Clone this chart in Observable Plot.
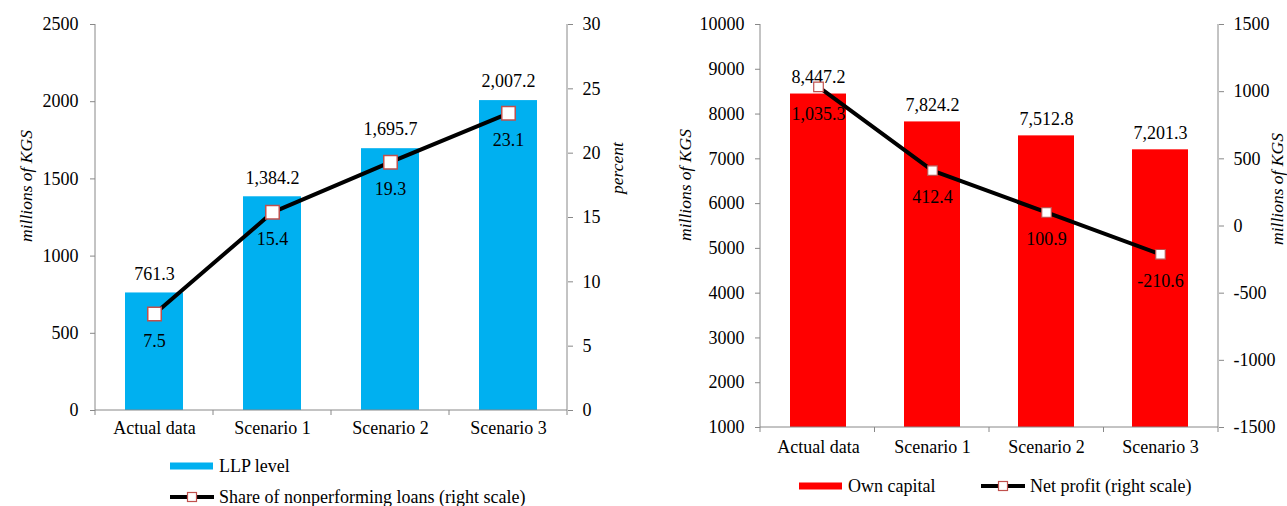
<!DOCTYPE html>
<html><head><meta charset="utf-8">
<script src="https://cdn.jsdelivr.net/npm/d3@7"></script>
<script src="https://cdn.jsdelivr.net/npm/@observablehq/plot@0.6"></script>
<style>
body{margin:0;background:#fff;}
#wrap{position:relative;width:1287px;height:506px;overflow:hidden;font-family:'Liberation Serif','DejaVu Serif',serif;color:#000;}
.panel{position:absolute;top:0;}
.panel text{font-family:'Liberation Serif','DejaVu Serif',serif;}
.leg{position:absolute;display:flex;align-items:center;font-size:18px;white-space:nowrap;line-height:1;}
.leg svg{display:block;margin-right:5px;}
.ttl{position:absolute;font-style:italic;font-size:17.5px;white-space:nowrap;transform:translate(-50%,-50%) rotate(-90deg);line-height:1;}
</style></head><body><div id="wrap"></div>
<script>
// ---- data ----
const categories = ["Actual data", "Scenario 1", "Scenario 2", "Scenario 3"];
const llpLevel = [761.3, 1384.2, 1695.7, 2007.2];
const nplShare = [7.5, 15.4, 19.3, 23.1];
const ownCapital = [8447.2, 7824.2, 7512.8, 7201.3];
const netProfit = [1035.3, 412.4, 100.9, -210.6];
const leftTicksA = [0, 500, 1000, 1500, 2000, 2500];
const rightTicksA = [0, 5, 10, 15, 20, 25, 30];
const leftTicksB = [1000, 2000, 3000, 4000, 5000, 6000, 7000, 8000, 9000, 10000];
const rightTicksB = [-1500, -1000, -500, 0, 500, 1000, 1500];

const FONT = "'Liberation Serif','DejaVu Serif',serif";
const AXIS = "#888888";
const fmt = v => (v < 0 ? "-" : "") + d3.format(",.1f")(Math.abs(v));

function frameLines() {
  return (index, scales, values, dims) => {
    const {width, height, marginLeft, marginRight, marginTop, marginBottom} = dims;
    const x0 = marginLeft, x1 = width - marginRight, y0 = marginTop, y1 = height - marginBottom;
    const g = d3.create("svg:g").attr("stroke", AXIS).attr("stroke-width", 1).attr("fill", "none");
    g.append("line").attr("x1", x0).attr("x2", x0).attr("y1", y0).attr("y2", y1);
    g.append("line").attr("x1", x1).attr("x2", x1).attr("y1", y0).attr("y2", y1);
    g.append("line").attr("x1", x0).attr("x2", x1).attr("y1", y1).attr("y2", y1);
    const n = categories.length;
    for (let i = 0; i <= n; i++) {
      const x = x0 + i * (x1 - x0) / n;
      g.append("line").attr("x1", x).attr("x2", x).attr("y1", y1).attr("y2", y1 + 5);
    }
    return g.node();
  };
}

const wrap = document.getElementById("wrap");

// ---- left chart ----
const kA = 2500 / 30;
const dataA = categories.map((c, i) => ({cat: c, llp: llpLevel[i], npl: nplShare[i]}));
const chartA = Plot.plot({
  width: 640, height: 450,
  marginLeft: 95, marginRight: 73, marginTop: 24, marginBottom: 40,
  style: {fontFamily: FONT, fontSize: "18px", color: "#000", background: "transparent", overflow: "visible"},
  x: {domain: categories, paddingInner: 0.51, paddingOuter: 0.255},
  y: {domain: [0, 2500]},
  marks: [
    Plot.barY(dataA, {x: "cat", y: "llp", fill: "#00B0F0"}),
    frameLines(),
    Plot.axisY({ticks: leftTicksA, anchor: "left", tickSize: 5, tickPadding: 12, stroke: AXIS, fill: "#000", tickFormat: d => String(d), label: null}),
    Plot.axisY({ticks: rightTicksA.map(v => v * kA), anchor: "right", tickSize: 5, tickPadding: 10, stroke: AXIS, fill: "#000", tickFormat: d => String(Math.round(d / kA)), label: null}),
    Plot.axisX({tickSize: 0, tickPadding: 11, fill: "#000", label: null}),
    Plot.text(dataA, {x: "cat", y: "llp", text: d => fmt(d.llp), dy: -19, fill: "#000"}),
    Plot.line(dataA, {x: "cat", y: d => d.npl * kA, stroke: "#000", strokeWidth: 4}),
    Plot.dot(dataA, {x: "cat", y: d => d.npl * kA, symbol: "square", r: 7.6, fill: "#fff", stroke: "#C0504D", strokeWidth: 1.5}),
    Plot.text(dataA, {x: "cat", y: d => d.npl * kA, text: d => fmt(d.npl), dy: 27, fill: "#000"})
  ]
});
chartA.classList.add("panel");
chartA.style.left = "0px";
wrap.appendChild(chartA);

// ---- right chart ----
const toB = v => 1000 + (v + 1500) * 3;
const fromB = y => (y - 1000) / 3 - 1500;
const dataB = categories.map((c, i) => ({cat: c, cap: ownCapital[i], np: netProfit[i]}));
const chartB = Plot.plot({
  width: 647, height: 467,
  marginLeft: 120, marginRight: 69, marginTop: 24, marginBottom: 40,
  style: {fontFamily: FONT, fontSize: "18px", color: "#000", background: "transparent", overflow: "visible"},
  x: {domain: categories, paddingInner: 0.51, paddingOuter: 0.255},
  y: {domain: [1000, 10000]},
  marks: [
    Plot.barY(dataB, {x: "cat", y1: 1000, y2: "cap", fill: "#FF0000"}),
    frameLines(),
    Plot.axisY({ticks: leftTicksB, anchor: "left", tickSize: 5, tickPadding: 11, stroke: AXIS, fill: "#000", tickFormat: d => String(d), label: null}),
    Plot.axisY({ticks: rightTicksB.map(toB), anchor: "right", tickSize: 5, tickPadding: 10, stroke: AXIS, fill: "#000", tickFormat: d => String(Math.round(fromB(d))), label: null}),
    Plot.axisX({tickSize: 0, tickPadding: 13, fill: "#000", label: null}),
    Plot.text(dataB, {x: "cat", y: "cap", text: d => fmt(d.cap), dy: -17, fill: "#000"}),
    Plot.line(dataB, {x: "cat", y: d => toB(d.np), stroke: "#000", strokeWidth: 4}),
    Plot.dot(dataB, {x: "cat", y: d => toB(d.np), symbol: "square", r: 5.4, fill: "#fff", stroke: "#C0504D", strokeWidth: 1.2}),
    Plot.text(dataB, {x: "cat", y: d => toB(d.np), text: d => fmt(d.np), dy: 27, fill: "#000"})
  ]
});
chartB.classList.add("panel");
chartB.style.left = "640px";
wrap.appendChild(chartB);

// ---- axis titles ----
function title(text, x, y) {
  const d = document.createElement("div");
  d.className = "ttl";
  d.textContent = text;
  d.style.left = x + "px";
  d.style.top = y + "px";
  wrap.appendChild(d);
}
title("millions of KGS", 27, 186);
title("percent", 618, 168);
title("millions of KGS", 686, 185);
title("millions of KGS", 1278, 189);

// ---- legends ----
function legend(x, y, kind, color, text) {
  const d = document.createElement("div");
  d.className = "leg";
  d.style.left = x + "px";
  d.style.top = (y - 10) + "px";
  d.style.height = "20px";
  const s = d3.create("svg").attr("width", 44).attr("height", 14);
  if (kind === "bar") {
    s.append("rect").attr("x", 0).attr("y", 3.5).attr("width", 43).attr("height", 7).attr("fill", color);
  } else {
    s.append("line").attr("x1", 0).attr("x2", 44).attr("y1", 7).attr("y2", 7).attr("stroke", "#000").attr("stroke-width", 4);
    s.append("rect").attr("x", 17.5).attr("y", 2.5).attr("width", 9).attr("height", 9).attr("fill", "#fff").attr("stroke", "#C0504D").attr("stroke-width", 1.2);
  }
  d.appendChild(s.node());
  const t = document.createElement("span");
  t.textContent = text;
  d.appendChild(t);
  wrap.appendChild(d);
}
legend(170, 466, "bar", "#00B0F0", "LLP level");
legend(170, 497, "line", null, "Share of nonperforming loans (right scale)");
legend(799, 486, "bar", "#FF0000", "Own capital");
legend(981, 486, "line", null, "Net profit (right scale)");
</script></body></html>
